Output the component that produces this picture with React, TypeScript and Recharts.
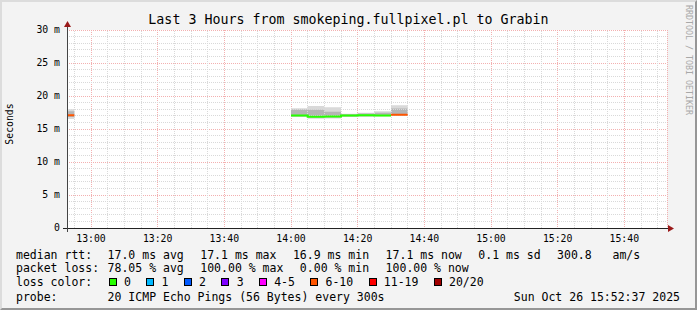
import React from 'react';
import { ComposedChart, Area, Line, XAxis, YAxis, ReferenceLine, CartesianGrid } from 'recharts';

// ---- data (minutes since 12:00, 300 s steps) ----
const slotStart = [50, 120, 125, 130, 135, 140, 145, 150];
const lossCount = [7, 0, 0, 0, 0, 0, 0, 8];
const medianRtt = [17.1, 17.05, 16.85, 16.9, 17.05, 17.1, 17.05, 17.15];
const smokeMin = [16.5, 16.8, 16.55, 16.6, 16.8, 16.85, 16.9, 17.0];
const smokeLow = [16.8, 16.95, 16.75, 16.75, 16.9, 16.95, 17.0, 17.05];
const smokeHigh = [17.7, 17.95, 17.9, 17.6, 17.25, 17.35, 17.45, 18.1];
const smokeMax = [18.0, 18.15, 18.5, 18.3, 17.3, 17.45, 17.7, 18.6];

const xTicks = [60, 80, 100, 120, 140, 160, 180, 200, 220];
const xTickLabels = ['13:00', '13:20', '13:40', '14:00', '14:20', '14:40', '15:00', '15:20', '15:40'];
const yTicks = [0, 5, 10, 15, 20, 25, 30];
const yTickLabels = ['0', '5 m', '10 m', '15 m', '20 m', '25 m', '30 m'];

const lossBins = [
  { max: 0, label: '0', color: '#26ff00' },
  { max: 1, label: '1', color: '#00b8ff' },
  { max: 2, label: '2', color: '#0059ff' },
  { max: 3, label: '3', color: '#7e00ff' },
  { max: 5, label: '4-5', color: '#ff00ff' },
  { max: 10, label: '6-10', color: '#ff5500' },
  { max: 19, label: '11-19', color: '#ff0000' },
  { max: 20, label: '20/20', color: '#a00000' },
];

const statsRtt = ['17.0 ms avg', '17.1 ms max', '16.9 ms min', '17.1 ms now', '0.1 ms sd', '300.8   am/s'];
const statsLoss = ['78.05 % avg', '100.00 % max', '0.00 % min', '100.00 % now'];
const probeText = '20 ICMP Echo Pings (56 Bytes) every 300s';
const dateText = 'Sun Oct 26 15:52:37 2025';
const title = 'Last 3 Hours from smokeping.fullpixel.pl to Grabin';

// ---- layout ----
const W = 697;
const H = 310;
const PL = 67, PT = 30, PR = 667, PB = 228;
const viewStart = 52.8;
const viewEnd = 232.8;
const FONT = '"DejaVu Sans Mono", monospace';

const binOf = (i: number) => lossBins.findIndex((b) => lossCount[i] <= b.max);

const slotIndex = new Map<number, number>(slotStart.map((t, i) => [t, i]));
const rowTimes: number[] = [];
for (let t = 50; t <= 235; t += 5) rowTimes.push(t);

const usedBins = Array.from(new Set(slotStart.map((_, i) => binOf(i))));

const rows = rowTimes.map((t) => {
  const i = slotIndex.get(t);
  const j = slotIndex.get(t - 5);
  const k = i !== undefined ? i : j;
  const row: any = { t };
  row.outer = k !== undefined ? [smokeMin[k], smokeMax[k]] : null;
  row.inner = k !== undefined ? [smokeLow[k], smokeHigh[k]] : null;
  usedBins.forEach((b) => {
    let v: number | null = null;
    if (i !== undefined && binOf(i) === b) v = medianRtt[i];
    else if (j !== undefined && binOf(j) === b) v = medianRtt[j];
    row['m' + b] = v;
  });
  return row;
});

const minorX: number[] = [];
for (let t = 55; t < viewEnd; t += 5) if (!xTicks.includes(t)) minorX.push(t);
const minorY: number[] = [];
for (let v = 1; v < 30; v += 1) if (!yTicks.includes(v)) minorY.push(v);

const legendTop = [247.5, 261, 275, 289.5];

export default function App() {
  return (
    <div
      style={{
        position: 'absolute',
        left: 0,
        top: 0,
        width: W,
        height: H,
        background: '#f3f3f3',
        fontFamily: FONT,
        color: '#000',
        overflow: 'hidden',
      }}
    >
      <div style={{ position: 'absolute', left: 0, top: 0 }}>
        <ComposedChart width={W} height={H} data={rows} margin={{ top: 30, right: 30, bottom: 52, left: 0 }}>
          <CartesianGrid fill="#ffffff" stroke="#f3b0b0" strokeDasharray="1 1" shapeRendering="crispEdges" />
          <XAxis
            dataKey="t"
            type="number"
            domain={[viewStart, viewEnd]}
            allowDataOverflow
            ticks={xTicks}
            interval={0}
            tickFormatter={(v: number) => xTickLabels[xTicks.indexOf(v)]}
            axisLine={false}
            tickLine={false}
            tickSize={0}
            tickMargin={7}
            height={30}
            tick={{ fontSize: 9.8, fontFamily: FONT, fill: '#000' }}
          />
          <YAxis
            type="number"
            domain={[0, 30]}
            allowDataOverflow
            ticks={yTicks}
            interval={0}
            tickFormatter={(v: number) => yTickLabels[yTicks.indexOf(v)]}
            axisLine={false}
            tickLine={false}
            tickSize={0}
            tickMargin={7}
            width={67}
            tick={{ fontSize: 9.8, fontFamily: FONT, fill: '#000' }}
          />
          {minorX.map((t) => (
            <ReferenceLine key={'mx' + t} x={t} stroke="#d9d9d9" strokeDasharray="1 1" shapeRendering="crispEdges" />
          ))}
          {minorY.map((v) => (
            <ReferenceLine key={'my' + v} y={v} stroke="#d9d9d9" strokeDasharray="1 1" shapeRendering="crispEdges" />
          ))}
          <Area
            dataKey="outer"
            type="stepAfter"
            stroke="none"
            fill="#d9d9d9"
            fillOpacity={1}
            isAnimationActive={false}
            dot={false}
            activeDot={false}
          />
          <Area
            dataKey="inner"
            type="stepAfter"
            stroke="none"
            fill="#b5b5b5"
            fillOpacity={1}
            isAnimationActive={false}
            dot={false}
            activeDot={false}
          />
          {usedBins.map((b) => (
            <Line
              key={'m' + b}
              dataKey={'m' + b}
              type="stepAfter"
              stroke={lossBins[b].color}
              strokeWidth={2}
              dot={false}
              activeDot={false}
              isAnimationActive={false}
            />
          ))}
        </ComposedChart>
      </div>
      {/* axes with arrows */}
      <svg style={{ position: 'absolute', left: 0, top: 0 }} width={W} height={H}>
        <line x1={PL - 4} y1={PB + 0.5} x2={PR + 1} y2={PB + 0.5} stroke="#222" strokeWidth={1} />
        <line x1={PL + 0.5} y1={PB + 4} x2={PL + 0.5} y2={PT - 5} stroke="#444" strokeWidth={1} />
        <polygon points={`${PL + 0.5},${PT - 9} ${PL - 3},${PT - 3} ${PL + 4},${PT - 3}`} fill="#9a1a1a" />
        <polygon points={`${PR + 7},${PB + 0.5} ${PR + 1},${PB - 3} ${PR + 1},${PB + 4}`} fill="#9a1a1a" />
      </svg>
      {/* title */}
      <div style={{ position: 'absolute', left: 0, width: W, top: 11.7, textAlign: 'center', fontSize: 13.3, lineHeight: '16px', whiteSpace: 'pre' }}>
        {title}
      </div>
      {/* y label */}
      <div
        style={{
          position: 'absolute',
          left: 10,
          top: 124,
          transform: 'translate(-50%, -50%) rotate(-90deg)',
          fontSize: 9.8,
          lineHeight: '12px',
          whiteSpace: 'pre',
        }}
      >
        Seconds
      </div>
      {/* watermark */}
      <div
        style={{
          position: 'absolute',
          left: 684,
          top: 5,
          writingMode: 'vertical-rl',
          fontSize: 8.3,
          lineHeight: '9px',
          color: '#a8a8a8',
          whiteSpace: 'pre',
        }}
      >
        RRDTOOL / TOBI OETIKER
      </div>
      {/* legend */}
      <div style={{ position: 'absolute', left: 16, top: legendTop[0], fontSize: 11.5, lineHeight: '14px', display: 'flex', whiteSpace: 'pre' }}>
        <span style={{ width: 91.6 }}>median rtt:</span>
        {statsRtt.map((s, i) => (
          <span key={i} style={{ marginRight: 16.5 }}>{s}</span>
        ))}
      </div>
      <div style={{ position: 'absolute', left: 16, top: legendTop[1], fontSize: 11.5, lineHeight: '14px', display: 'flex', whiteSpace: 'pre' }}>
        <span style={{ width: 91.6 }}>packet loss:</span>
        {statsLoss.map((s, i) => (
          <span key={i} style={{ marginRight: 16.5 }}>{s}</span>
        ))}
      </div>
      <div style={{ position: 'absolute', left: 16, top: legendTop[2], fontSize: 11.5, lineHeight: '14px', display: 'flex', alignItems: 'center', whiteSpace: 'pre' }}>
        <span style={{ width: 92.9 }}>loss color:</span>
        {lossBins.map((b) => (
          <span key={b.label} style={{ display: 'flex', alignItems: 'center', marginRight: 15.4 }}>
            <span style={{ width: 6, height: 6, background: b.color, border: '1px solid #000', marginRight: 7.2, display: 'inline-block' }} />
            <span>{b.label}</span>
          </span>
        ))}
      </div>
      <div style={{ position: 'absolute', left: 16, top: legendTop[3], fontSize: 11.5, lineHeight: '14px', display: 'flex', whiteSpace: 'pre' }}>
        <span style={{ width: 91.6 }}>probe:</span>
        <span>{probeText}</span>
      </div>
      <div style={{ position: 'absolute', right: 17, top: legendTop[3], fontSize: 11.5, lineHeight: '14px', whiteSpace: 'pre' }}>
        {dateText}
      </div>
      {/* 3D border */}
      <div
        style={{
          position: 'absolute',
          left: 0,
          top: 0,
          width: W,
          height: H,
          boxSizing: 'border-box',
          borderStyle: 'solid',
          borderWidth: 2,
          borderColor: '#dcdcdc #969696 #969696 #dcdcdc',
          pointerEvents: 'none',
        }}
      />
    </div>
  );
}
